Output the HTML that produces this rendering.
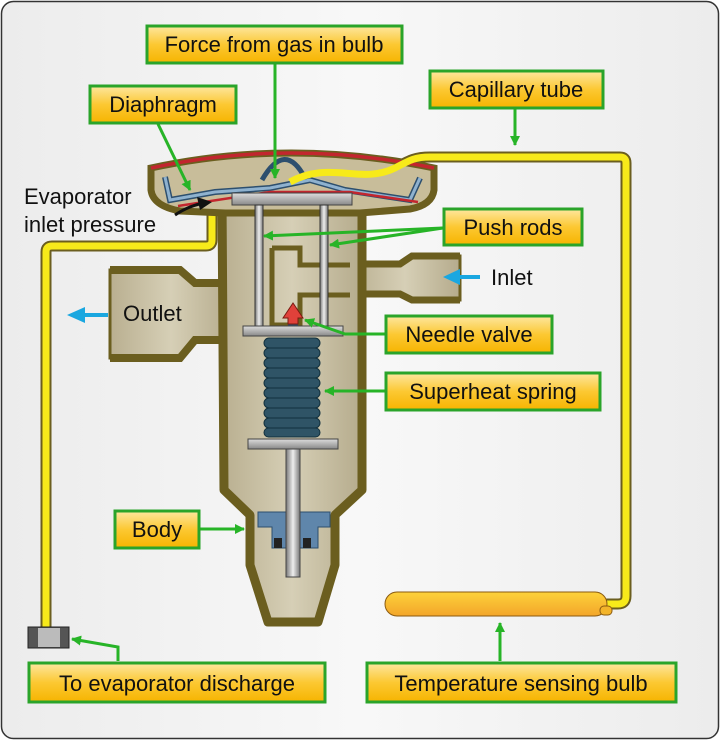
<!DOCTYPE html>
<html><head><meta charset="utf-8"><style>
html,body{margin:0;padding:0;background:#fff}
svg{display:block}
text{font-family:"Liberation Sans",sans-serif;fill:#111}
</style></head><body>
<svg width="720" height="740" viewBox="0 0 720 740" xmlns="http://www.w3.org/2000/svg">
<defs>
<linearGradient id="lab" x1="0" y1="0" x2="0" y2="1"><stop offset="0" stop-color="#fde7a0"/><stop offset="0.5" stop-color="#fcc832"/><stop offset="1" stop-color="#f6b400"/></linearGradient>
<linearGradient id="bg" x1="0" y1="0" x2="1" y2="0"><stop offset="0" stop-color="#ececec"/><stop offset="0.5" stop-color="#f8f8f8"/><stop offset="1" stop-color="#ececec"/></linearGradient>
<linearGradient id="beige" x1="0" y1="0" x2="1" y2="0"><stop offset="0" stop-color="#b9af90"/><stop offset="0.5" stop-color="#d6cfb6"/><stop offset="1" stop-color="#b5ab8c"/></linearGradient>
<linearGradient id="metal" x1="0" y1="0" x2="1" y2="0"><stop offset="0" stop-color="#777"/><stop offset="0.5" stop-color="#eee"/><stop offset="1" stop-color="#777"/></linearGradient>
<linearGradient id="metalv" x1="0" y1="0" x2="0" y2="1"><stop offset="0" stop-color="#ddd"/><stop offset="1" stop-color="#888"/></linearGradient>
<linearGradient id="bulb" x1="0" y1="0" x2="0" y2="1"><stop offset="0" stop-color="#fdd23a"/><stop offset="1" stop-color="#f3a52a"/></linearGradient>
<marker id="ga" markerWidth="10" markerHeight="10" refX="9" refY="5" orient="auto" markerUnits="userSpaceOnUse" viewBox="0 0 10 10"><path d="M0,0L10,5L0,10z" fill="#27b427"/></marker>
</defs>
<rect x="1.5" y="1.5" width="717" height="737" rx="12" fill="url(#bg)" stroke="#333" stroke-width="1.5"/>

<path d="M212,215 V240 Q212,246 206,246 H52 Q46,246 46,252 V628" fill="none" stroke="#6b5e1f" stroke-width="11"/>
<path d="M212,215 V240 Q212,246 206,246 H52 Q46,246 46,252 V628" fill="none" stroke="#f7ea1a" stroke-width="7"/>
<path d="M290,182 C330,160 360,185 395,168 C410,160 415,157 430,157 H620 Q626,157 626,163 V596 Q626,604 618,604 H605" fill="none" stroke="#6b5e1f" stroke-width="11"/>

<path d="M110,270 H180 L195,283 H232 V340 H195 L180,358 H110 Z" fill="url(#beige)" stroke="#6b5e1f" stroke-width="3"/>
<path d="M110,270 H180 L195,283 H232 M110,358 H180 L195,340 H232" fill="none" stroke="#6b5e1f" stroke-width="8"/>
<path d="M350,264 H400 L412,256 H460 V300 H412 L400,294 H350 Z" fill="url(#beige)" stroke="#6b5e1f" stroke-width="3"/>
<path d="M350,264 H400 L412,256 H460 M350,294 H400 L412,300 H460" fill="none" stroke="#6b5e1f" stroke-width="7"/>

<path d="M222,200 H362 V490 L335,515 V565 L318,622 H268 L250,565 V515 L224,490 Z" fill="url(#beige)" stroke="#6b5e1f" stroke-width="9" stroke-linejoin="round"/>
<path d="M272,248 H300 V265 H350 M272,248 V325 H300 V295 H350" fill="none" stroke="#6b5e1f" stroke-width="5"/>
<path d="M151,168 Q290,138 434,168 V190 Q432,205 410,209 L360,213 H225 L180,211 Q153,206 151,190 Z" fill="#c8bd9a" stroke="#6b5e1f" stroke-width="7"/>
<path d="M151,168 Q290,138 434,168" fill="none" stroke="#c2262e" stroke-width="3.5"/>
<path d="M165,177 L170,200 L215,192 L270,188 L310,180 L345,190 L410,200 L420,178" fill="none" stroke="#2d4f6e" stroke-width="6"/>
<path d="M165,177 L170,200 L215,192 L270,188 L310,180 L345,190 L410,200 L420,178" fill="none" stroke="#8fb2cf" stroke-width="3"/>
<path d="M262,180 Q285,140 305,178" fill="none" stroke="#2d4f6e" stroke-width="5"/>
<path d="M178,206 L270,192 H350 L418,202" fill="none" stroke="#c2262e" stroke-width="2.5"/>
<path d="M290,182 C330,160 360,185 395,168 C410,160 415,157 430,157 H620 Q626,157 626,163 V596 Q626,604 618,604 H605" fill="none" stroke="#f7ea1a" stroke-width="7"/>
<rect x="232" y="193" width="120" height="12" fill="url(#metalv)" stroke="#444"/>
<rect x="255" y="205" width="8" height="125" fill="url(#metal)" stroke="#333"/>
<rect x="320" y="205" width="8" height="125" fill="url(#metal)" stroke="#333"/>
<rect x="288" y="318" width="10" height="12" fill="#2d4f6e"/>
<path d="M283,318 L293,303 L303,318 H298 V324 H288 V318Z" fill="#e0413a" stroke="#7a1a10"/>
<rect x="243" y="326" width="100" height="10" fill="url(#metalv)" stroke="#444"/>
<g fill="#2f5466" stroke="#12303d" stroke-width="1">
<rect x="264" y="338" width="56" height="10" rx="5"/><rect x="264" y="348" width="56" height="10" rx="5"/><rect x="264" y="358" width="56" height="10" rx="5"/><rect x="264" y="368" width="56" height="10" rx="5"/><rect x="264" y="378" width="56" height="10" rx="5"/><rect x="264" y="388" width="56" height="10" rx="5"/><rect x="264" y="398" width="56" height="10" rx="5"/><rect x="264" y="408" width="56" height="10" rx="5"/><rect x="264" y="418" width="56" height="10" rx="5"/><rect x="264" y="428" width="56" height="9" rx="4.5"/>
</g>
<rect x="248" y="439" width="90" height="10" fill="url(#metalv)" stroke="#444"/>
<path d="M258,512 H330 V527 H318 V548 H272 V527 H258 Z" fill="#5f86ab" stroke="#2d4f6e"/>
<rect x="274" y="538" width="8" height="10" fill="#222"/><rect x="303" y="538" width="8" height="10" fill="#222"/>
<rect x="286" y="449" width="14" height="128" fill="url(#metal)" stroke="#444"/>

<rect x="385" y="592" width="222" height="24" rx="12" fill="url(#bulb)" stroke="#8a5a10"/>
<rect x="600" y="606" width="12" height="9" rx="4" fill="#f3b42a" stroke="#8a5a10"/>
<rect x="28" y="627" width="41" height="21" fill="#555" stroke="#222"/>
<rect x="38" y="628" width="22" height="19" fill="#bbb"/>

<path d="M108,313 H85 V307 L67,315 L85,323 V317 H108Z" fill="#1aa7e0"/>
<path d="M480,275 H460 V269 L443,277 L460,285 V279 H480Z" fill="#1aa7e0"/>
<path d="M175,215 Q190,205 205,203" fill="none" stroke="#111" stroke-width="3"/>
<path d="M197,197 L212,202 L200,210Z" fill="#111"/>

<g fill="none" stroke="#27b427" stroke-width="3">
<path d="M275,64 V178" marker-end="url(#ga)"/>
<path d="M158,124 L190,190" marker-end="url(#ga)"/>
<path d="M515,109 V145" marker-end="url(#ga)"/>
<path d="M443,228 L264,236" marker-end="url(#ga)"/>
<path d="M443,228 L330,245" marker-end="url(#ga)"/>
<path d="M385,334 L345,334 L305,320" marker-end="url(#ga)"/>
<path d="M385,391 H325" marker-end="url(#ga)"/>
<path d="M199,529 H244" marker-end="url(#ga)"/>
<path d="M118,661 V647 L72,639" marker-end="url(#ga)"/>
<path d="M500,661 V623" marker-end="url(#ga)"/>
</g>

<g stroke="#2aa42a" stroke-width="3" fill="url(#lab)">
<rect x="147" y="26" width="255" height="37"/>
<rect x="90" y="86" width="146" height="37"/>
<rect x="430" y="71" width="173" height="37"/>
<rect x="444" y="209" width="138" height="36"/>
<rect x="386" y="316" width="166" height="37"/>
<rect x="386" y="373" width="214" height="37"/>
<rect x="115" y="511" width="84" height="37"/>
<rect x="29" y="663" width="296" height="39"/>
<rect x="367" y="663" width="309" height="39"/>
</g>
<g font-size="22">
<text x="274" y="52" text-anchor="middle">Force from gas in bulb</text>
<text x="163" y="112" text-anchor="middle">Diaphragm</text>
<text x="516" y="97" text-anchor="middle">Capillary tube</text>
<text x="513" y="235" text-anchor="middle">Push rods</text>
<text x="469" y="342" text-anchor="middle">Needle valve</text>
<text x="493" y="399" text-anchor="middle">Superheat spring</text>
<text x="157" y="537" text-anchor="middle">Body</text>
<text x="177" y="691" text-anchor="middle">To evaporator discharge</text>
<text x="521" y="691" text-anchor="middle">Temperature sensing bulb</text>
<text x="24" y="204">Evaporator</text>
<text x="24" y="232">inlet pressure</text>
<text x="123" y="321">Outlet</text>
<text x="491" y="285">Inlet</text>
</g>
</svg>
</body></html>
